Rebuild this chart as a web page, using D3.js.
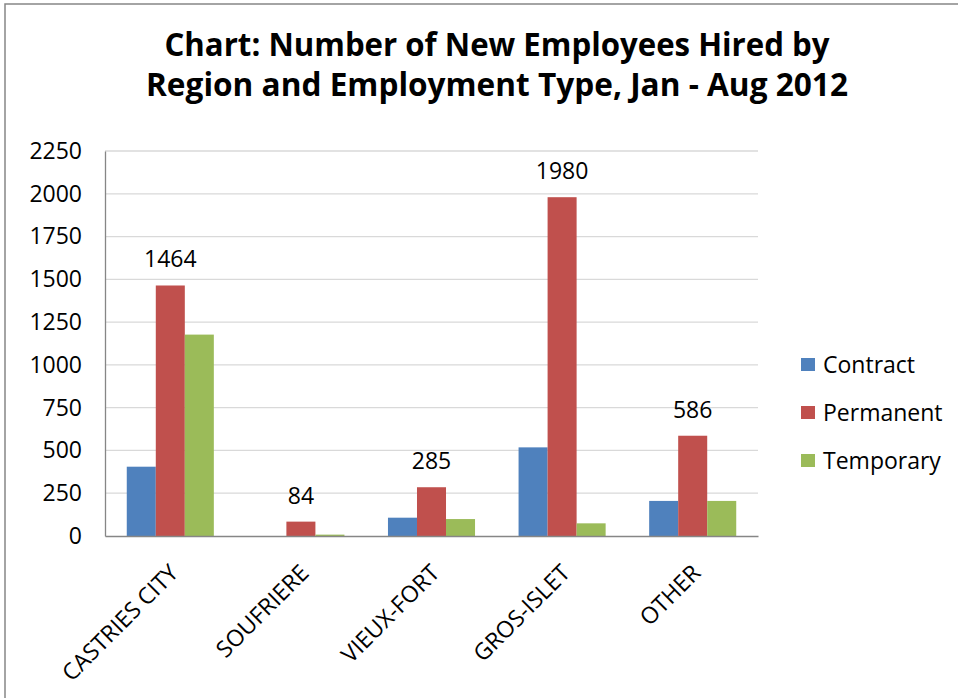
<!DOCTYPE html>
<html>
<head>
<meta charset="utf-8">
<script src="https://cdn.jsdelivr.net/npm/d3@7"></script>
<style>
  html, body { margin: 0; padding: 0; background: #fff; }
  svg text { font-family: "Open Sans", "Liberation Sans", sans-serif; fill: #000; }
</style>
</head>
<body>
<svg id="chart" width="958" height="698"></svg>
<script>
// Regions and the three employment types
const regions = ["CASTRIES CITY", "SOUFRIERE", "VIEUX-FORT", "GROS-ISLET", "OTHER"];
const seriesNames = ["Contract", "Permanent", "Temporary"];
const contract  = [405, 0, 107, 518, 205];
const permanent = [1464, 84, 285, 1980, 586];
const temporary = [1177, 8, 99, 74, 205];
const yTicks = [0, 250, 500, 750, 1000, 1250, 1500, 1750, 2000, 2250];
const titleLines = ["Chart: Number of New Employees Hired by",
                    "Region and Employment Type, Jan - Aug 2012"];
const colors = ["#4F81BD", "#C0504D", "#9BBB59"];

const seriesValues = [contract, permanent, temporary];
const rows = regions.map((r, i) => ({
  region: r,
  values: seriesNames.map((s, k) => ({ series: s, value: seriesValues[k][i], k }))
}));

const svg = d3.select("#chart");

// outer chart frame
svg.append("rect")
  .attr("x", 5).attr("y", 4).attr("width", 960).attr("height", 700)
  .attr("fill", "#fff").attr("stroke", "#868686").attr("stroke-width", 1.5);

// title
svg.append("g").selectAll("text").data(titleLines).join("text")
  .attr("x", 497).attr("y", (d, i) => 56 + i * 40)
  .attr("text-anchor", "middle")
  .style("font-size", "31.5px").style("font-weight", "bold")
  .attr("textLength", (d, i) => i === 0 ? 665 : 702)
  .attr("lengthAdjust", "spacingAndGlyphs")
  .text(d => d);

const plot = { left: 105, right: 758, top: 151, bottom: 536 };

const x0 = d3.scaleBand().domain(regions).range([plot.left, plot.right]).paddingInner(0).paddingOuter(0);
const x1 = d3.scaleBand().domain(seriesNames).range([0, x0.bandwidth()]).paddingInner(0).paddingOuter(0.75);
const y = d3.scaleLinear().domain([0, 2250]).range([plot.bottom, plot.top]);

// gridlines
svg.append("g").selectAll("line").data(yTicks.filter(t => t > 0)).join("line")
  .attr("x1", plot.left).attr("x2", plot.right)
  .attr("y1", d => y(d)).attr("y2", d => y(d))
  .attr("stroke", "#d9d9d9").attr("stroke-width", 1.3);

// y axis
const yAxis = svg.append("g")
  .attr("transform", `translate(${plot.left},0)`)
  .call(d3.axisLeft(y).tickValues(yTicks).tickFormat(d3.format("d")).tickSize(0).tickPadding(23));
yAxis.select(".domain").attr("stroke", "#868686").attr("stroke-width", 1.3);
yAxis.selectAll("text").style("font-size", "23px").style("font-family", "'Open Sans', sans-serif");

// bars
const groups = svg.append("g").selectAll("g").data(rows).join("g")
  .attr("transform", d => `translate(${x0(d.region)},0)`);
groups.selectAll("rect").data(d => d.values).join("rect")
  .attr("x", d => x1(d.series))
  .attr("width", x1.bandwidth())
  .attr("y", d => y(d.value))
  .attr("height", d => y(0) - y(d.value))
  .attr("fill", d => colors[d.k]);

// data labels on Permanent bars
groups.append("text")
  .datum(d => d.values[1])
  .attr("x", d => x1(d.series) + x1.bandwidth() / 2)
  .attr("y", d => y(d.value) - 18)
  .attr("text-anchor", "middle")
  .style("font-size", "23px")
  .text(d => d.value);

// x axis
const xAxis = svg.append("g")
  .attr("transform", `translate(0,${plot.bottom})`)
  .call(d3.axisBottom(x0).tickSize(0).tickPadding(0));
xAxis.select(".domain").attr("stroke", "#868686").attr("stroke-width", 1.3);
xAxis.selectAll("text")
  .style("font-size", "23px")
  .attr("text-anchor", "end")
  .attr("dy", "0.7em")
  .attr("transform", "translate(-2,27) rotate(-45)");

// legend
const legend = svg.append("g").attr("transform", "translate(801,358)");
const li = legend.selectAll("g").data(seriesNames).join("g")
  .attr("transform", (d, i) => `translate(0,${i * 48})`);
li.append("rect").attr("width", 14).attr("height", 13).attr("fill", (d, i) => colors[i]);
li.append("text").attr("x", 22).attr("y", 6.5).attr("dy", "0.36em")
  .style("font-size", "23px").text(d => d);
</script>
</body>
</html>
